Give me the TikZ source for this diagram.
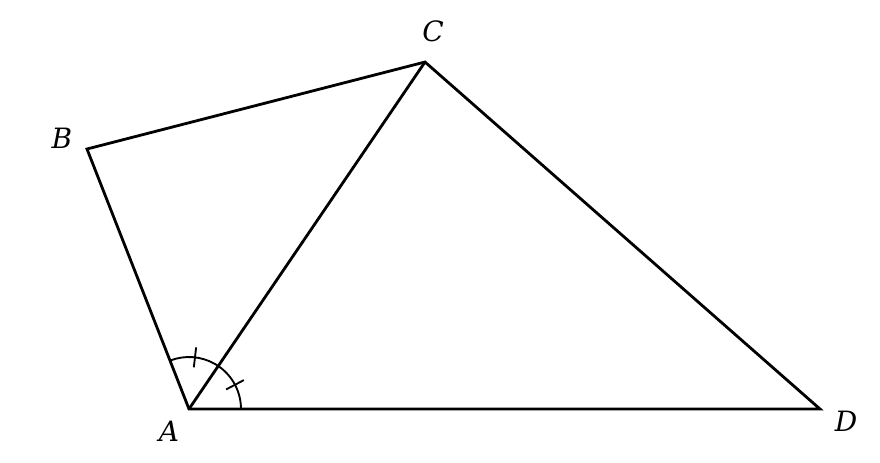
\documentclass[tikz,border=0pt]{standalone}
\usepackage{fontspec}
\setmainfont{DejaVu Serif}
\begin{document}
\begin{tikzpicture}[x=0.75pt,y=-0.75pt,
  edge/.style={line width=2.1pt,line join=miter},
  anglemark/.style={line width=1.4pt},
  lbl/.style={font=\fontsize{21}{24}\selectfont\itshape,inner sep=0pt}]
\useasboundingbox (0,0) rectangle (880,462);
\coordinate (A) at (189,409);
\coordinate (B) at (87,149);
\coordinate (C) at (425,62);
\coordinate (D) at (820,409);
\draw[edge] (A) -- (B) -- (C) -- (D) -- cycle;
\draw[edge] (A) -- (C);
% angle arc
\draw[anglemark] ([shift={(0:52)}]A) arc[start angle=0,end angle=-111.2,radius=52];
\draw[anglemark] ([shift={(-27.8:42)}]A) -- ([shift={(-27.8:62)}]A);
\draw[anglemark] ([shift={(-83.4:42)}]A) -- ([shift={(-83.4:62)}]A);
\node[lbl] (la) at (169,431) {A};
\node[lbl] (lb) at (62,138) {B};
\node[lbl] (lc) at (433,31) {C};
\node[lbl] (ld) at (846,421) {D};
\end{tikzpicture}
\end{document}
